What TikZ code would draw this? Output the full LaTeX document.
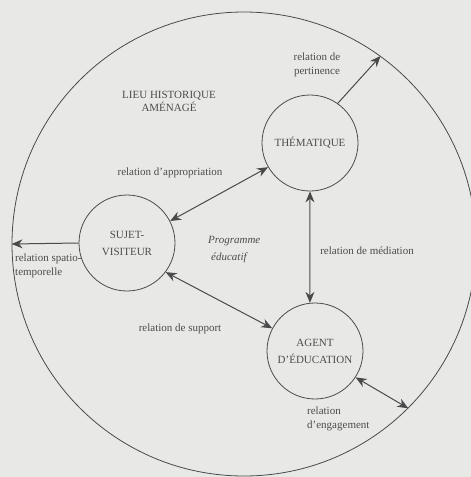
\documentclass[tikz,border=0pt]{standalone}
\usepackage{fontspec}
\setmainfont{Liberation Serif}
\usetikzlibrary{arrows.meta}
\definecolor{paper}{HTML}{E8E8E6}
\definecolor{ink}{HTML}{4A4A4A}
\definecolor{inktext}{HTML}{4C4C4C}
\begin{document}
\begin{tikzpicture}[x=1pt,y=-1pt,
  lbl/.style={font=\fontsize{11}{14}\selectfont, text=inktext, inner sep=0pt, align=center},
  pole/.style={circle, draw=ink, line width=0.8pt, minimum size=96pt, inner sep=0pt,
    font=\fontsize{11}{17}\selectfont, text=inktext, align=center},
  tip/.tip={Stealth[length=11pt,width=9pt]},
  link/.style={draw=ink, line width=1pt, -tip},
  duo/.style={draw=ink, line width=1pt, tip-tip}
]
% page and clipping
\fill[paper] (0,0) rectangle (471,477);
\useasboundingbox (0,0) rectangle (471,477);
\clip (0,0) rectangle (471,477);

% the developed historic site
\node[circle, draw=ink, line width=0.8pt, minimum size=464pt, inner sep=0pt] (B) at (244,244) {};

% the three poles
\node[pole] (T) at (310,143) {THÉMATIQUE};
\node[pole] (S) at (127,243) {SUJET-\\VISITEUR};
\node[pole] (A) at (315,351) {AGENT\\D'ÉDUCATION};

% relations
\draw[link] (T.55) -- (B.54.4);
\draw[duo] (S.27) -- (T.210);
\draw[duo] (T.south) -- (A.96);
\draw[duo] (S.-37) -- (A.152);
\draw[link] (S.west) -- (B.180);
\draw[duo] (A.-33) -- (B.-45.7);

% labels
\node[lbl] (lpert) at (317,65) {relation de\\pertinence};
\node[lbl, font=\fontsize{11}{13}\selectfont] (llieu) at (169,101) {LIEU HISTORIQUE\\AMÉNAGÉ};
\node[lbl] (lappr) at (170,173) {relation d'appropriation};
\node[lbl, align=left, anchor=west, font=\fontsize{11}{17}\selectfont\itshape] (lprog) at (208,249.5) {Programme\\\hspace{3pt}éducatif};
\node[lbl] (lmed) at (367,251) {relation de médiation};
\node[lbl, align=left, anchor=west] (lspat) at (15,266) {relation spatio-\\temporelle};
\node[lbl] (lsupp) at (180,329) {relation de support};
\node[lbl, align=left, anchor=west] (leng) at (307,419) {relation\\d'engagement};
\end{tikzpicture}
\end{document}
